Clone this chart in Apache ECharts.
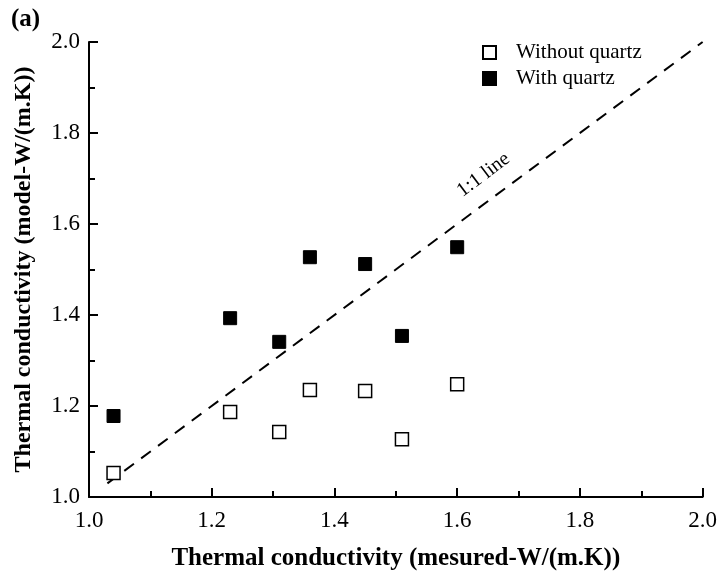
<!DOCTYPE html>
<html>
<head>
<meta charset="utf-8">
<script src="https://cdn.jsdelivr.net/npm/echarts@6/dist/echarts.min.js"></script>
<style>
html,body{margin:0;padding:0;background:#fff;}
#c{width:720px;height:579px;}
</style>
</head>
<body>
<div id="c"></div>
<script>
// Data
var measured = [1.04, 1.23, 1.31, 1.36, 1.45, 1.51, 1.60];
var withoutQuartz = [1.053, 1.187, 1.143, 1.235, 1.233, 1.127, 1.248];
var withQuartz = [1.178, 1.393, 1.341, 1.527, 1.512, 1.354, 1.549];
var oneToOne = [[1.03, 1.03], [2.0, 2.0]];
var lineLabelPos = [1.643, 1.708];

var FONT = '"Liberation Serif", "Times New Roman", serif';

function pairs(xs, ys) {
  return xs.map(function (x, i) { return [x, ys[i]]; });
}

var chart = echarts.init(document.getElementById('c'), null, {renderer: 'canvas'});
var axisCommon = {
  type: 'value',
  min: 1.0,
  max: 2.0,
  interval: 0.2,
  axisLine: {show: true, onZero: false, lineStyle: {color: '#000', width: 2}},
  axisTick: {show: true, inside: true, length: 9, lineStyle: {color: '#000', width: 2}},
  minorTick: {show: true, splitNumber: 2, length: 6, lineStyle: {color: '#000', width: 2}},
  splitLine: {show: false},
  axisLabel: {color: '#000', fontFamily: FONT, fontSize: 23, formatter: function (v) { return v.toFixed(1); }},
  nameLocation: 'middle',
  nameTextStyle: {color: '#000', fontFamily: FONT, fontSize: 25, fontWeight: 'bold'}
};

var option = {
  backgroundColor: '#fff',
  animation: false,
  title: {
    text: '(a)', left: 6, top: 2,
    textStyle: {color: '#000', fontFamily: FONT, fontSize: 25, fontWeight: 'bold'}
  },
  grid: {left: 89, right: 17, top: 42, bottom: 82, containLabel: false},
  legend: {
    orient: 'vertical',
    left: 477, top: 37,
    itemWidth: 13, itemHeight: 13,
    itemGap: 5,
    icon: 'rect',
    textStyle: {color: '#000', fontFamily: FONT, fontSize: 21, padding: [0, 0, 0, 15]},
    data: ['Without quartz', 'With quartz']
  },
  xAxis: Object.assign({}, axisCommon, {
    name: 'Thermal conductivity (mesured-W/(m.K))',
    nameGap: 49,
    axisLabel: Object.assign({}, axisCommon.axisLabel, {margin: 12})
  }),
  yAxis: Object.assign({}, axisCommon, {
    name: 'Thermal conductivity (model-W/(m.K))',
    nameGap: 53,
    nameRotate: 90,
    nameTextStyle: Object.assign({}, axisCommon.nameTextStyle, {fontSize: 24}),
    axisLabel: Object.assign({}, axisCommon.axisLabel, {margin: 9})
  }),
  series: [
    {
      name: '1:1 line',
      type: 'line',
      data: oneToOne,
      symbol: 'none',
      lineStyle: {color: '#000', width: 2, type: [12, 9], opacity: 1},
      z: 1
    },
    {
      name: 'label',
      type: 'scatter',
      data: [lineLabelPos],
      symbolSize: 0,
      silent: true,
      itemStyle: {opacity: 1},
      label: {
        show: true, position: 'inside', formatter: '1:1 line', rotate: 37,
        color: '#000', fontFamily: FONT, fontSize: 20
      }
    },
    {
      name: 'Without quartz',
      type: 'scatter',
      symbol: 'rect',
      symbolSize: 13,
      data: pairs(measured, withoutQuartz),
      itemStyle: {color: '#fff', borderColor: '#000', borderWidth: 1.5, opacity: 1},
      z: 3
    },
    {
      name: 'With quartz',
      type: 'scatter',
      symbol: 'rect',
      symbolSize: 13,
      data: pairs(measured, withQuartz),
      itemStyle: {color: '#000', borderColor: '#000', borderWidth: 1, opacity: 1},
      z: 3
    }
  ]
};
chart.setOption(option);
</script>
</body>
</html>
